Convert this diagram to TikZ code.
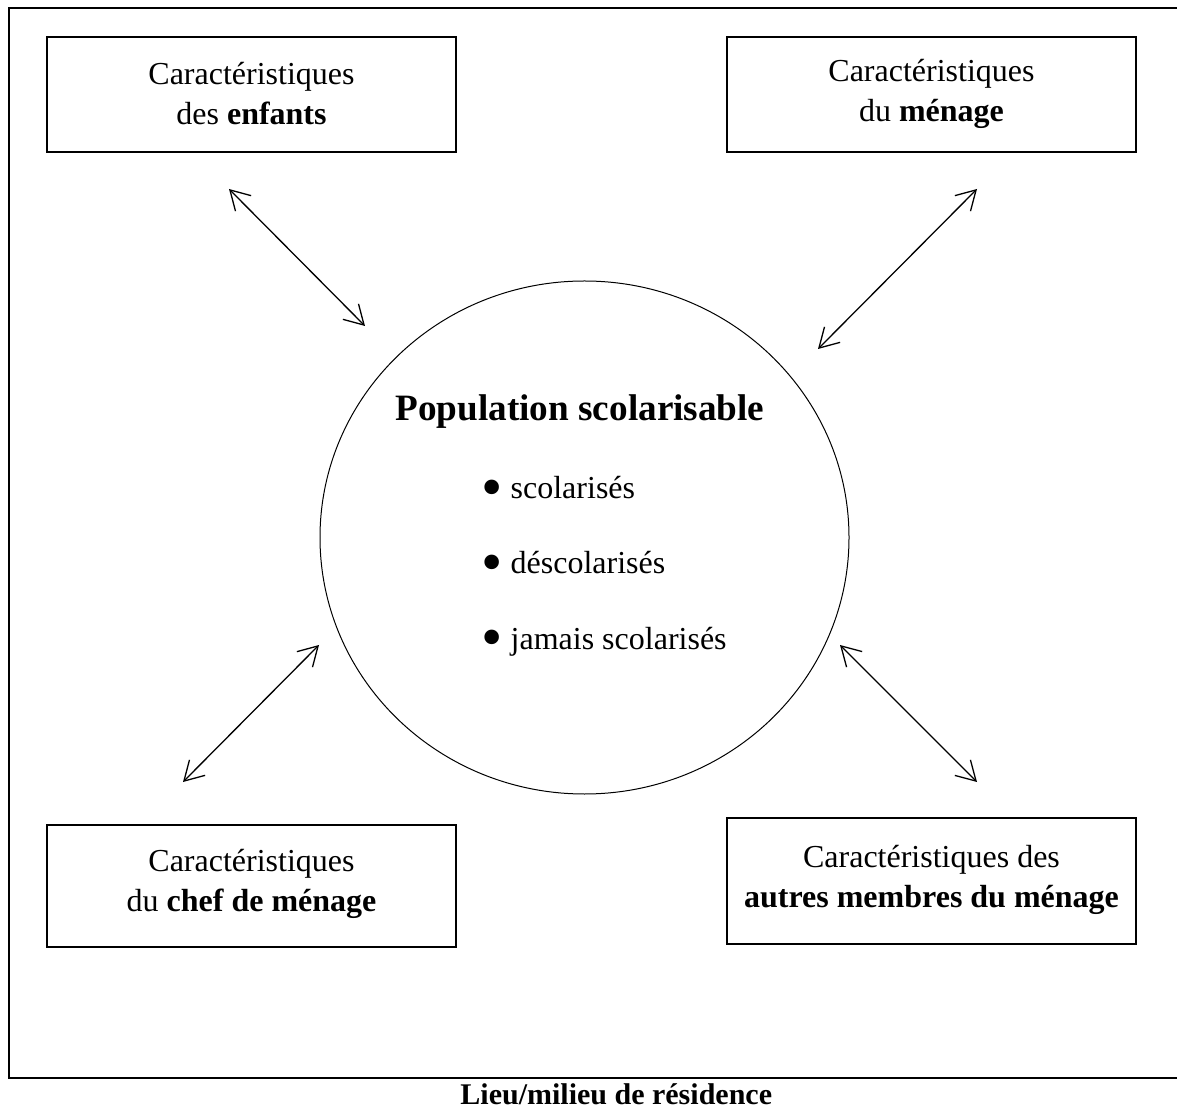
\documentclass[tikz,border=0pt]{standalone}
\usepackage{fontspec}
\setmainfont{Liberation Serif}
\usepackage{graphicx}
\usetikzlibrary{arrows.meta,shapes.geometric}
\newcommand{\bigdot}{\raisebox{-4.3pt}{\scalebox{1.9}{\textbullet}}\hspace{4pt}}
\begin{document}
\begin{tikzpicture}[x=0.5pt,y=-0.5pt,
  box/.style={draw,line width=0.9pt,minimum width=204.5pt},
  boxtext/.style={align=center,inner sep=0pt,font=\fontsize{16}{20}\selectfont},
  link/.style={line width=0.65pt,{Straight Barb[length=9.5pt,width=11pt]}-{Straight Barb[length=9.5pt,width=11pt]}},
  item/.style={anchor=base west,inner sep=0pt,font=\fontsize{16}{18}\selectfont}]
\useasboundingbox (0,0) rectangle (1177,1111);
\draw[line width=0.9pt] (1180,8) -- (9,8) -- (9,1078) -- (1180,1078);
\node[box,minimum height=57.5pt] (tl) at (251.5,94.5) {};
\node[box,minimum height=57.5pt] (tr) at (931.5,94.5) {};
\node[box,minimum height=61pt] (bl) at (251.5,886) {};
\node[box,minimum height=63pt] (br) at (931.5,881) {};
\node[boxtext] (tlt) at (251.5,94) {Caractéristiques\\des \textbf{enfants}};
\node[boxtext] (trt) at (931.5,94) {Caractéristiques\\du \textbf{ménage}};
\node[boxtext] (blt) at (251.5,884) {Caractéristiques\\du \textbf{chef de ménage}};
\node[boxtext] (brt) at (931.5,880) {Caractéristiques des\\\textbf{autres membres du ménage}};
\node[draw,ellipse,inner sep=0pt,line width=0.5pt,minimum width=264.5pt,minimum height=256.5pt] (pop) at (584.5,537.5) {};
\node[font=\fontsize{18.6}{22}\selectfont\bfseries] (title) at (580,412) {Population scolarisable};
\node[item] (i1) at (481,499) {\bigdot scolarisés};
\node[item] (i2) at (481,574) {\bigdot déscolarisés};
\node[item] (i3) at (481,649) {\bigdot jamais scolarisés};
\node[anchor=base west,inner sep=0pt,font=\fontsize{15}{18}\selectfont\bfseries] (lieu) at (460,1104) {Lieu/milieu de résidence};
\coordinate (a1) at (229,189); \coordinate (b1) at (365,326);
\coordinate (a2) at (977,189); \coordinate (b2) at (818,349);
\coordinate (a3) at (319,645); \coordinate (b3) at (183,782);
\coordinate (a4) at (840,645); \coordinate (b4) at (977,782);
\draw[link] (a1) -- (b1);
\draw[link] (a2) -- (b2);
\draw[link] (a3) -- (b3);
\draw[link] (a4) -- (b4);
\end{tikzpicture}
\end{document}
